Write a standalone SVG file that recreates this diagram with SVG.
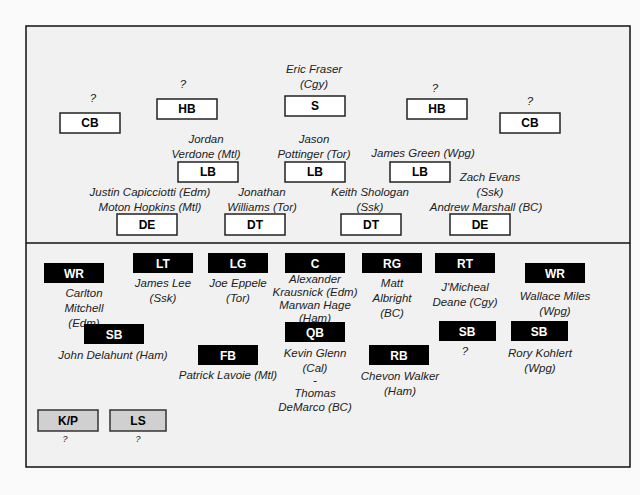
<svg xmlns="http://www.w3.org/2000/svg" width="640" height="495" viewBox="0 0 640 495">
<style>
.n{font-family:"Liberation Sans",Arial,sans-serif;font-size:11.5px;font-style:italic;fill:#222;text-anchor:middle}
.l{font-family:"Liberation Sans",Arial,sans-serif;font-size:12px;font-weight:bold;text-anchor:middle}
.d{fill:#fff;stroke:#222;stroke-width:1.5}
.o{fill:#000}
.k{fill:#d0d0d0;stroke:#333;stroke-width:1.5}
.w{fill:#fff}
</style>
<rect width="640" height="495" fill="#fafafa"/>
<rect x="26" y="26" width="604" height="441" fill="#f1f1f1" stroke="#111" stroke-width="1.5"/>
<g id="connectors"><line x1="26" y1="243" x2="630" y2="243" stroke="#111" stroke-width="1.5"/></g>
<g id="defense">
<g id="cb1"><rect class="d" x="60" y="113" width="60" height="20"/><text class="l" x="90" y="127">CB</text><text class="n" x="93" y="102">?</text></g>
<g id="hb1"><rect class="d" x="157" y="99" width="60" height="20"/><text class="l" x="187" y="113">HB</text><text class="n" x="183" y="88">?</text></g>
<g id="s"><rect class="d" x="285" y="96" width="60" height="20"/><text class="l" x="315" y="110">S</text><text class="n" x="314" y="73">Eric Fraser</text><text class="n" x="314" y="88">(Cgy)</text></g>
<g id="hb2"><rect class="d" x="407" y="99" width="60" height="20"/><text class="l" x="437" y="113">HB</text><text class="n" x="435" y="92">?</text></g>
<g id="cb2"><rect class="d" x="500" y="113" width="60" height="20"/><text class="l" x="530" y="127">CB</text><text class="n" x="530" y="105">?</text></g>
<g id="lb1"><rect class="d" x="178" y="162" width="60" height="20"/><text class="l" x="208" y="176">LB</text><text class="n" x="206" y="143">Jordan</text><text class="n" x="206" y="158">Verdone (Mtl)</text></g>
<g id="lb2"><rect class="d" x="285" y="162" width="60" height="20"/><text class="l" x="315" y="176">LB</text><text class="n" x="314" y="143">Jason</text><text class="n" x="314" y="158">Pottinger (Tor)</text></g>
<g id="lb3"><rect class="d" x="390" y="162" width="60" height="20"/><text class="l" x="420" y="176">LB</text><text class="n" x="423" y="157">James Green (Wpg)</text></g>
<g id="de1"><rect class="d" x="117" y="214" width="60" height="21"/><text class="l" x="147" y="229">DE</text><text class="n" x="150" y="196">Justin Capicciotti (Edm)</text><text class="n" x="150" y="211">Moton Hopkins (Mtl)</text></g>
<g id="dt1"><rect class="d" x="225" y="214" width="60" height="21"/><text class="l" x="255" y="229">DT</text><text class="n" x="262" y="196">Jonathan</text><text class="n" x="262" y="211">Williams (Tor)</text></g>
<g id="dt2"><rect class="d" x="341" y="214" width="60" height="21"/><text class="l" x="371" y="229">DT</text><text class="n" x="370" y="196">Keith Shologan</text><text class="n" x="370" y="211">(Ssk)</text></g>
<g id="de2"><rect class="d" x="450" y="214" width="60" height="21"/><text class="l" x="480" y="229">DE</text><text class="n" x="490" y="181">Zach Evans</text><text class="n" x="490" y="196">(Ssk)</text><text class="n" x="486" y="211">Andrew Marshall (BC)</text></g>
</g>
<g id="offense">
<g id="wr1"><rect class="o" x="44" y="263" width="60" height="20"/><text class="l w" x="74" y="278">WR</text><text class="n" x="84" y="297">Carlton</text><text class="n" x="84" y="312">Mitchell</text><text class="n" x="84" y="327">(Edm)</text></g>
<g id="lt"><rect class="o" x="133" y="253" width="60" height="20"/><text class="l w" x="163" y="268">LT</text><text class="n" x="163" y="287">James Lee</text><text class="n" x="163" y="302">(Ssk)</text></g>
<g id="lg"><rect class="o" x="208" y="253" width="60" height="20"/><text class="l w" x="238" y="268">LG</text><text class="n" x="238" y="287">Joe Eppele</text><text class="n" x="238" y="302">(Tor)</text></g>
<g id="c"><rect class="o" x="285" y="253" width="60" height="20"/><text class="l w" x="315" y="268">C</text><text class="n" x="315" y="283">Alexander</text><text class="n" x="315" y="296">Krausnick (Edm)</text><text class="n" x="315" y="309">Marwan Hage</text><text class="n" x="315" y="322">(Ham)</text></g>
<g id="rg"><rect class="o" x="362" y="253" width="60" height="20"/><text class="l w" x="392" y="268">RG</text><text class="n" x="392" y="287">Matt</text><text class="n" x="392" y="302">Albright</text><text class="n" x="392" y="317">(BC)</text></g>
<g id="rt"><rect class="o" x="435" y="253" width="60" height="20"/><text class="l w" x="465" y="268">RT</text><text class="n" x="465" y="291">J'Micheal</text><text class="n" x="465" y="306">Deane (Cgy)</text></g>
<g id="wr2"><rect class="o" x="525" y="263" width="60" height="20"/><text class="l w" x="555" y="278">WR</text><text class="n" x="555" y="300">Wallace Miles</text><text class="n" x="555" y="315">(Wpg)</text></g>
<g id="sb1"><rect class="o" x="84" y="324" width="60" height="20"/><text class="l w" x="114" y="339">SB</text><text class="n" x="113" y="359">John Delahunt (Ham)</text></g>
<g id="fb"><rect class="o" x="198" y="345" width="60" height="20"/><text class="l w" x="228" y="360">FB</text><text class="n" x="228" y="379">Patrick Lavoie (Mtl)</text></g>
<g id="qb"><rect class="o" x="285" y="322" width="60" height="20"/><text class="l w" x="315" y="337">QB</text><text class="n" x="315" y="357">Kevin Glenn</text><text class="n" x="315" y="372">(Cal)</text><text class="n" x="315" y="384">-</text><text class="n" x="315" y="397">Thomas</text><text class="n" x="315" y="411">DeMarco (BC)</text></g>
<g id="rb"><rect class="o" x="369" y="345" width="60" height="20"/><text class="l w" x="399" y="360">RB</text><text class="n" x="400" y="380">Chevon Walker</text><text class="n" x="400" y="395">(Ham)</text></g>
<g id="sb2"><rect class="o" x="439" y="321" width="57" height="20"/><text class="l w" x="467" y="336">SB</text><text class="n" x="465" y="355">?</text></g>
<g id="sb3"><rect class="o" x="511" y="321" width="57" height="20"/><text class="l w" x="539" y="336">SB</text><text class="n" x="540" y="357">Rory Kohlert</text><text class="n" x="540" y="372">(Wpg)</text></g>
</g>
<g id="special">
<g id="kp"><rect class="k" x="38" y="410" width="60" height="21"/><text class="l" x="68" y="425">K/P</text><text class="n" x="65" y="442" style="font-size:9px">?</text></g>
<g id="ls"><rect class="k" x="110" y="410" width="56" height="21"/><text class="l" x="138" y="425">LS</text><text class="n" x="138" y="442" style="font-size:9px">?</text></g>
</g>
</svg>
